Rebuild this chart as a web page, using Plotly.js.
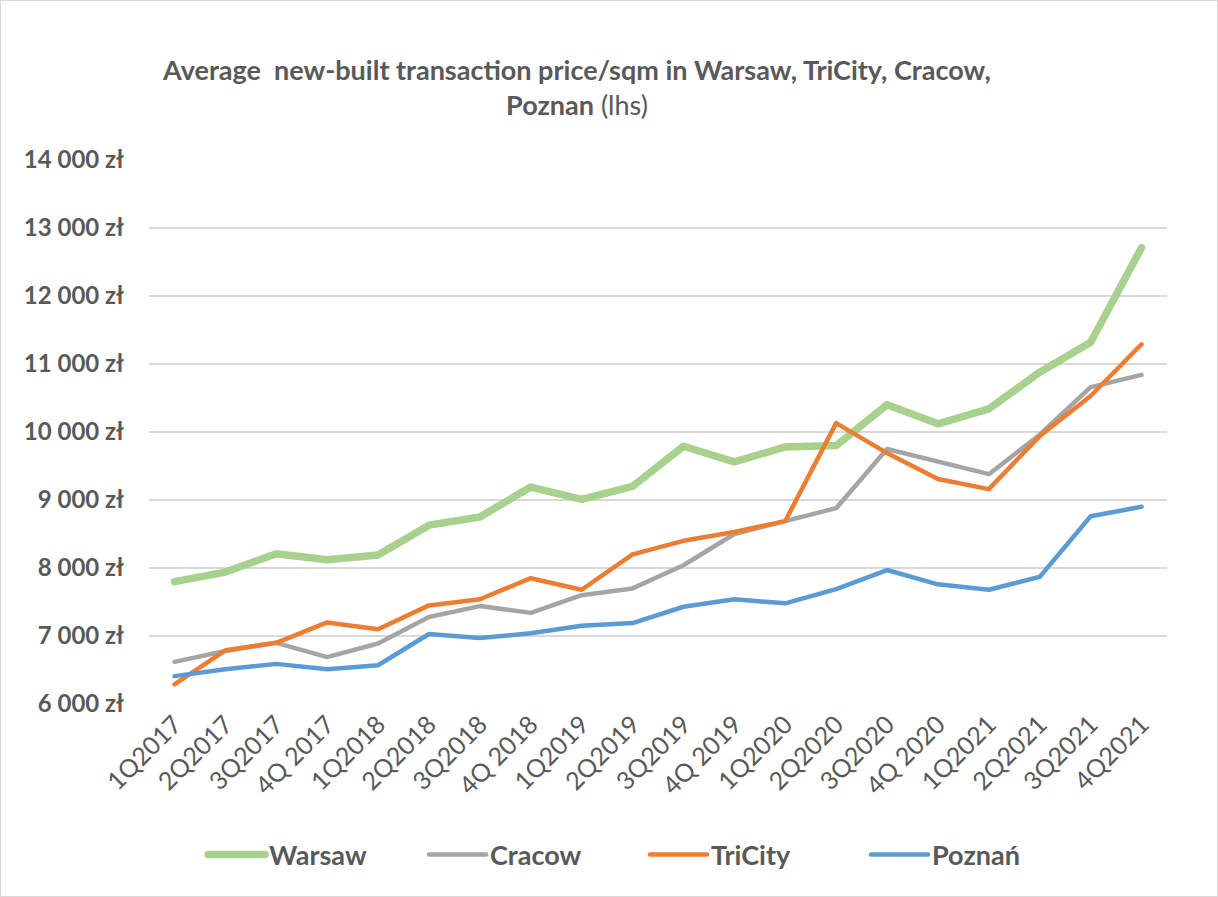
<!DOCTYPE html>
<html>
<head>
<meta charset="utf-8">
<script src="https://cdn.plot.ly/plotly-3.0.1.min.js"></script>
<style>
  html, body { margin: 0; padding: 0; background: #fff; }
  #chart { width: 1218px; height: 897px; }
  #frame { position: absolute; left: 0; top: 0; width: 1216px; height: 895px; border: 1px solid #d9d9d9; pointer-events: none; }
</style>
</head>
<body>
<div id="chart"></div>
<div id="frame"></div>
<script>
const quarters = ["1Q2017","2Q2017","3Q2017","4Q 2017","1Q2018","2Q2018","3Q2018","4Q 2018","1Q2019","2Q2019","3Q2019","4Q 2019","1Q2020","2Q2020","3Q2020","4Q 2020","1Q2021","2Q2021","3Q2021","4Q2021"];
const warsaw  = [7800,7940,8210,8120,8190,8630,8750,9190,9010,9200,9790,9560,9780,9800,10400,10120,10340,10880,11320,12710];
const cracow  = [6620,6780,6900,6690,6890,7280,7440,7340,7600,7700,8040,8500,8690,8880,9750,9560,9380,9960,10660,10840];
const tricity = [6290,6790,6900,7200,7100,7450,7540,7850,7680,8200,8400,8530,8690,10130,9690,9310,9160,9940,10530,11290];
const poznan  = [6410,6510,6590,6510,6570,7030,6970,7040,7150,7190,7430,7540,7480,7690,7970,7760,7680,7870,8760,8900];
const seriesNames = ["Warsaw","Cracow","TriCity","Poznań"];
const yTicks = [6000,7000,8000,9000,10000,11000,12000,13000,14000];
const yTickLabels = ["6 000 zł","7 000 zł","8 000 zł","9 000 zł","10 000 zł","11 000 zł","12 000 zł","13 000 zł","14 000 zł"];

const colors = ["#a9d18e","#a5a5a5","#ed7d31","#5b9bd5"];
const widths = [7.5,4.5,4.5,4.5];
const allSeries = [warsaw, cracow, tricity, poznan];

const traces = allSeries.map((vals, i) => ({
  type: "scatter",
  mode: "lines",
  x: quarters,
  y: vals,
  name: seriesNames[i],
  line: { color: colors[i], width: widths[i], shape: "linear" },
  hoverinfo: "x+y+name"
}));

const FONT = "Lato, 'Open Sans', sans-serif";
const layout = {
  width: 1218,
  height: 897,
  paper_bgcolor: "#ffffff",
  plot_bgcolor: "#ffffff",
  margin: { l: 149, r: 51, t: 160, b: 193 },
  font: { family: FONT, color: "#595959" },
  title: {
    text: "<b>Average\u00a0 new-built transaction price/sqm in Warsaw, TriCity, Cracow,</b><br><b>Poznan</b> (lhs)",
    font: { family: FONT, size: 27, color: "#595959" },
    x: 0.4737, xanchor: "center", xref: "container",
    y: 0.911, yanchor: "middle", yref: "container"
  },
  xaxis: {
    type: "category",
    range: [-0.5, 19.5],
    showgrid: false,
    zeroline: false,
    showline: false,
    ticks: "",
    tickangle: -45,
    tickfont: { family: FONT, size: 25, color: "#595959" }
  },
  yaxis: {
    range: [6000, 14000],
    tickvals: yTicks,
    ticktext: yTickLabels,
    showgrid: true,
    gridcolor: "#d9d9d9",
    gridwidth: 2,
    zeroline: false,
    showline: false,
    ticks: "",
    ticklabelstandoff: 24,
    tickfont: { family: FONT, size: 24, color: "#595959", weight: "bold" }
  },
  showlegend: true,
  legend: {
    orientation: "h",
    xref: "container", yref: "container",
    x: 0.1667, xanchor: "left",
    y: 0.047, yanchor: "middle",
    entrywidth: 150,
    itemwidth: 56,
    font: { family: FONT, size: 27, color: "#595959", weight: "bold" },
    bgcolor: "rgba(0,0,0,0)"
  }
};

Plotly.newPlot("chart", traces, layout, { displayModeBar: false }).then(() => {
  document.querySelectorAll("#chart .legend .legendlines path").forEach(p => {
    p.setAttribute("d", "M5,0h57");
    p.style.strokeLinecap = "round";
  });
  document.querySelectorAll("#chart .scatterlayer .js-line").forEach(p => {
    p.style.strokeLinejoin = "round";
    p.style.strokeLinecap = "round";
  });
});
</script>
</body>
</html>
